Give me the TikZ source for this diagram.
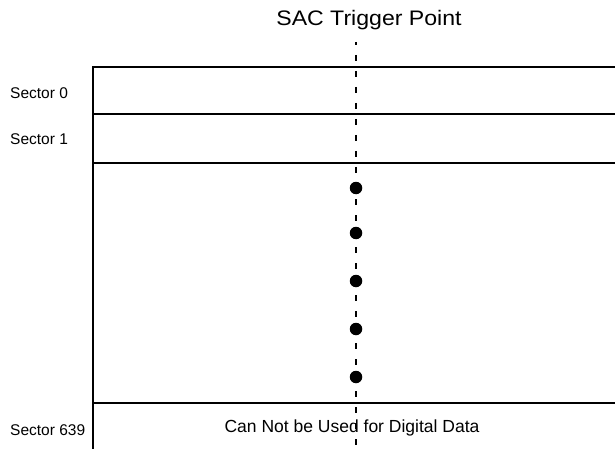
\documentclass[tikz,border=0pt]{standalone}
\usepackage{fontspec}
\setmainfont{Liberation Sans}
\begin{document}
\begin{tikzpicture}[x=1pt,y=-1pt,
  rule/.style={line width=2pt},
  trig/.style={line width=2.2pt,dash pattern=on 6pt off 10pt,dash phase=3pt},
  dotmark/.style={circle,fill=black,inner sep=0pt,minimum size=12.5pt},
  seclabel/.style={anchor=base west,inner sep=0pt,font=\fontsize{15.5}{18}\selectfont}]
\useasboundingbox (0,0) rectangle (615,449);
\fill[white] (0,0) rectangle (615,449);
% title
\node[anchor=base,inner sep=0pt,font=\fontsize{21}{24}\selectfont] (title) at (369,26) {\scalebox{1.1}[1]{SAC Trigger Point}};
% box
\coordinate (boxTL) at (92.5,67);
\coordinate (boxBL) at (92.5,449);
\draw[rule] (boxBL) -- (boxTL) -- (615,67);
\draw[rule] (92.5,114) -- (615,114);
\draw[rule] (92.5,163) -- (615,163);
\draw[rule] (92.5,403) -- (615,403);
% labels
\node[seclabel] (s0) at (10,99) {Sector 0};
\node[seclabel] (s1) at (10,145) {Sector 1};
\node[seclabel] (s639) at (10,435) {Sector 639};
\node[anchor=base,inner sep=0pt,font=\fontsize{17.5}{20}\selectfont] (cannot) at (352,432) {Can Not be Used for Digital Data};
% trigger line
\coordinate (trigTop) at (356,42);
\coordinate (trigBot) at (356,449);
\draw[trig] (trigTop) -- (trigBot);
% dots
\node[dotmark] (d1) at (356,188) {};
\node[dotmark] (d2) at (356,233) {};
\node[dotmark] (d3) at (356,281) {};
\node[dotmark] (d4) at (356,329) {};
\node[dotmark] (d5) at (356,377) {};
\end{tikzpicture}
\end{document}
